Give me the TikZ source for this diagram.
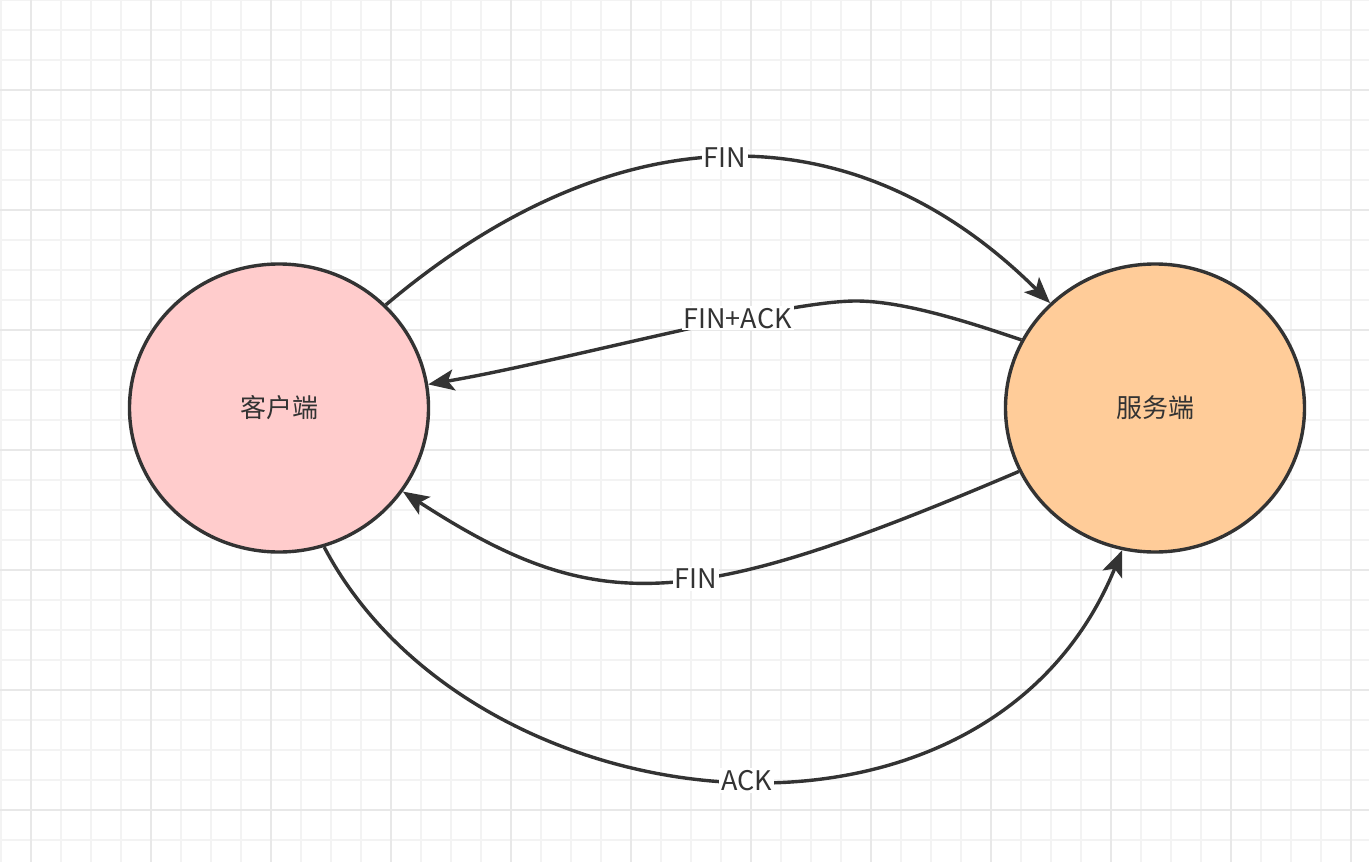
\documentclass[tikz,border=0pt]{standalone}
\usepackage{fontspec}
\newfontfamily\cjk{Noto Sans CJK SC}
\usetikzlibrary{shapes.geometric,arrows.meta}
\definecolor{ink}{HTML}{333333}
\definecolor{cfill}{HTML}{FFCCCC}
\definecolor{sfill}{HTML}{FFCC99}
\definecolor{gminor}{HTML}{F3F3F3}
\definecolor{gmajor}{HTML}{E8E8E8}
\tikzset{
  statenode/.style={ellipse, draw=ink, line width=3.4pt, minimum width=299pt, minimum height=288pt, inner sep=0pt, text=ink, font=\cjk\fontsize{26}{30}\selectfont},
  edge/.style={draw=ink, line width=3.4pt, -{Stealth[length=26pt,width=21pt,inset=6pt]}},
  lbl/.style={fill=white, text=ink, inner sep=2pt, font=\cjk\fontsize{27}{30}\selectfont},
  gridminor/.style={gminor, line width=1.5pt},
  gridmajor/.style={gmajor, line width=1.5pt}
}
\begin{document}
\begin{tikzpicture}[x=1pt,y=-1pt]
\useasboundingbox (0,0) rectangle (1369,862);
\fill[white] (0,0) rectangle (1369,862);
\foreach \x in {1,31,...,1369} \draw[gridminor] (\x,0) -- (\x,862);
\foreach \y in {0,30,...,862} \draw[gridminor] (0,\y) -- (1369,\y);
\foreach \x in {31,151,...,1369} \draw[gridmajor] (\x,0) -- (\x,862);
\foreach \y in {90,210,...,862} \draw[gridmajor] (0,\y) -- (1369,\y);

\node[statenode, fill=cfill] (client) at (279,408) {客户端};
\node[statenode, fill=sfill] (server) at (1155,408) {服务端};

\draw[edge] (client.44) .. controls (618,109) and (855,109) .. (server.135)
  node[lbl, pos=0.49] {FIN};
\draw[edge] (server.153) .. controls (960,319) and (900,301) .. (856,301)
  .. controls (780,301) and (560,362) .. (client.9)
  node[lbl, pos=0.34] {FIN+ACK};
\draw[edge] (server.205) .. controls (689,612) and (598,618) .. (client.326)
  node[lbl, pos=0.435] {FIN};
\draw[edge] (client.288) .. controls (472,828) and (985,886) .. (server.257)
  node[lbl, pos=0.52] {ACK};
\end{tikzpicture}
\end{document}
